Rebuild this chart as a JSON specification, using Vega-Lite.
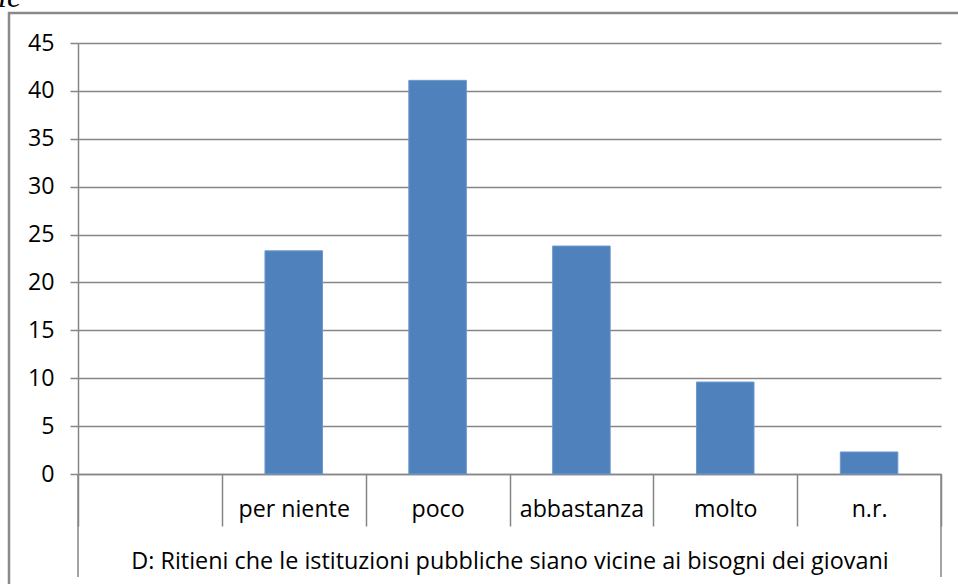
{
  "$schema": "https://vega.github.io/schema/vega-lite/v6.json",
  "width": 863,
  "height": 431,
  "autosize": {"type": "none"},
  "padding": {"left": 78, "top": 43, "right": 17, "bottom": 110},
  "background": "white",
  "config": {"view": {"stroke": null}},
  "title": {
    "text": "ic",
    "anchor": "start",
    "frame": "group",
    "font": "Liberation Serif",
    "fontStyle": "italic",
    "fontWeight": "normal",
    "fontSize": 32,
    "color": "#000000",
    "baseline": "alphabetic",
    "offset": -27,
    "dx": -80
  },
  "layer": [
    {
      "data": {"values": [{}]},
      "mark": {"type": "rect", "fill": null, "stroke": "#8a8a8a", "strokeWidth": 2.5, "clip": false},
      "encoding": {
        "x": {"value": -69},
        "x2": {"value": 920},
        "y": {"value": -30},
        "y2": {"value": 560}
      }
    },
    {
      "data": {"values": [{}]},
      "mark": {"type": "rule", "color": "#868686", "strokeWidth": 1.5},
      "encoding": {
        "x": {"value": 0},
        "y": {"value": 431},
        "y2": {"value": 534}
      }
    },
    {
      "data": {"values": [{}]},
      "mark": {"type": "rule", "color": "#868686", "strokeWidth": 1.5},
      "encoding": {
        "x": {"value": 863},
        "y": {"value": 431},
        "y2": {"value": 534}
      }
    },
    {
      "data": {
        "values": [
          {"risposta": "per niente", "percentuale": 23.3},
          {"risposta": "poco", "percentuale": 41.1},
          {"risposta": "abbastanza", "percentuale": 23.8},
          {"risposta": "molto", "percentuale": 9.6},
          {"risposta": "n.r.", "percentuale": 2.3}
        ]
      },
      "mark": {"type": "bar", "color": "#4F81BD", "stroke": "#6E98CC", "strokeWidth": 1, "width": {"band": 0.4}},
      "encoding": {
        "x": {
          "field": "risposta",
          "type": "nominal",
          "sort": null,
          "scale": {
            "domain": ["", "per niente", "poco", "abbastanza", "molto", "n.r."],
            "paddingInner": 0,
            "paddingOuter": 0
          },
          "axis": {
            "title": "D: Ritieni che le istituzioni pubbliche siano vicine ai bisogni dei giovani",
            "orient": "bottom",
            "labelAngle": 0,
            "tickBand": "extent",
            "tickSize": 52,
            "tickColor": "#868686",
            "tickWidth": 1.5,
            "domainColor": "#868686",
            "domainWidth": 1.5,
            "labelFont": "Open Sans",
            "labelFontSize": 23.2,
            "labelColor": "#000000",
            "labelBaseline": "alphabetic",
            "labelPadding": -10,
            "labelOverlap": false,
            "labelLimit": 0,
            "titleFont": "Open Sans",
            "titleFontSize": 23.4,
            "titleFontWeight": "normal",
            "titleColor": "#000000",
            "titleBaseline": "alphabetic",
            "titleAlign": "center",
            "titleX": 431.5,
            "titleY": 94,
            "titleLimit": 0
          }
        },
        "y": {
          "field": "percentuale",
          "type": "quantitative",
          "scale": {"domain": [0, 45], "nice": false},
          "axis": {
            "title": null,
            "values": [0, 5, 10, 15, 20, 25, 30, 35, 40, 45],
            "grid": true,
            "gridColor": "#868686",
            "gridWidth": 1.5,
            "domainColor": "#868686",
            "domainWidth": 1.5,
            "tickColor": "#868686",
            "tickSize": 8,
            "tickWidth": 1.5,
            "labelFont": "Open Sans",
            "labelFontSize": 23.2,
            "labelColor": "#000000",
            "labelPadding": 16,
            "labelBaseline": "middle"
          }
        }
      }
    }
  ]
}
